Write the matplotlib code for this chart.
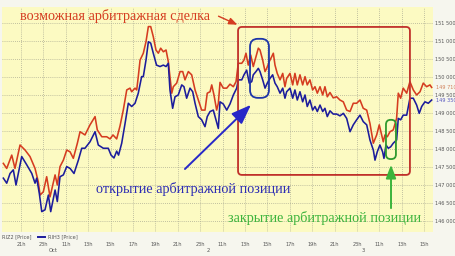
import matplotlib
matplotlib.use("Agg")
import matplotlib.pyplot as plt
from matplotlib.patches import FancyBboxPatch
from matplotlib.lines import Line2D

# =========================
# data (hours from first 21h tick, price)
# =========================
riz2_t = [-1.58, -1.28, -0.83, -0.54, -0.09, 0.36, 0.80, 1.25, 1.54, 1.70, 1.99, 2.29, 2.59, 3.04, 3.24,
          3.48, 3.78, 4.08, 4.38, 4.67, 5.03, 5.27, 5.71, 6.16, 6.61, 6.81, 7.21, 7.65, 7.95, 8.21,
          8.54, 8.84, 9.13, 9.44, 9.73, 9.88, 10.18, 10.33, 10.47, 10.63, 10.92, 11.16, 11.37, 11.58, 11.81,
          12.05, 12.26, 12.47, 12.71, 12.95, 13.15, 13.30, 13.46, 13.60, 13.90, 14.20, 14.44, 14.64, 14.94, 15.24,
          15.54, 15.83, 16.13, 16.43, 16.63, 16.88, 17.03, 17.23, 17.47, 17.62, 17.77, 18.06, 18.37, 18.66, 18.96,
          19.20, 19.40, 19.71, 19.91, 20.09, 20.29, 20.51, 20.74, 20.98, 21.19, 21.34, 21.58, 21.79, 21.94, 22.17,
          22.38, 22.53, 22.68, 22.88, 23.13, 23.37, 23.57, 23.72, 24.02, 24.26, 24.46, 24.67, 24.91, 25.15, 25.36,
          25.56, 25.80, 26.04, 26.25, 26.46, 26.70, 26.94, 27.14, 27.35, 27.59, 27.88, 28.19, 28.48, 28.78, 29.08,
          29.38, 29.67, 29.97, 30.27, 30.56, 30.87, 31.16, 31.46, 31.76, 31.99, 32.21, 32.35, 32.50, 32.71, 32.95,
          33.24, 33.54, 33.69, 33.90, 34.13, 34.44, 34.73, 35.03, 35.33, 35.63, 35.92, 36.22, 36.52, 36.67]
riz2_v = [147600, 147460, 147830, 147460, 148110, 147970, 147790, 147460, 147090, 146720, 146810, 147230, 146670, 147280, 147000,
          147510, 147690, 147970, 147920, 147740, 148160, 148480, 148390, 148670, 148900, 148530, 148340, 148340, 148280, 148390,
          148280, 148640, 149080, 149640, 149690, 149590, 149690, 149640, 150010, 150470, 150660, 150980, 151400, 151400, 151120,
          150750, 150660, 150800, 150700, 150750, 150430, 150010, 149550, 149730, 149830, 150150, 150150, 149920, 150150, 150060,
          149640, 149360, 149080, 149080, 149550, 149590, 149780, 149500, 149080, 149270, 149850, 149690, 149690, 149800, 149730,
          149870, 150380, 150380, 150470, 150660, 150330, 150610, 150290, 150560, 150800, 150750, 150470, 150150, 150240, 150430,
          150560, 150660, 150330, 150100, 149920, 150100, 149730, 149960, 150100, 149780, 150100, 149780, 150060, 149780, 150010,
          149780, 149920, 149640, 149730, 149550, 149730, 149500, 149730, 149450, 149570, 149420, 149450, 149360, 149310, 149080,
          149040, 149270, 149270, 149360, 149130, 149080, 148710, 148160, 148390, 148670, 148390, 148200, 148390, 148340, 148480,
          148530, 148850, 149550, 149410, 149690, 149550, 149870, 149640, 149500, 149590, 149830, 149730, 149780, 149710]

rih3_t = [-1.58, -1.28, -0.98, -0.69, -0.45, 0.06, 0.51, 0.96, 1.25, 1.40, 1.63, 1.85, 2.14, 2.44, 2.65,
          3.04, 3.24, 3.48, 3.78, 4.08, 4.38, 4.73, 5.12, 5.42, 5.71, 6.16, 6.61, 6.90, 7.35, 7.79,
          8.04, 8.30, 8.54, 8.71, 8.99, 9.29, 9.58, 9.88, 10.18, 10.47, 10.77, 10.92, 11.16, 11.37, 11.58,
          11.81, 12.10, 12.41, 12.71, 12.95, 13.15, 13.30, 13.54, 13.75, 14.04, 14.35, 14.55, 14.79, 15.09, 15.33,
          15.54, 15.83, 16.13, 16.43, 16.63, 16.88, 17.17, 17.41, 17.62, 17.77, 18.06, 18.37, 18.66, 18.96, 19.26,
          19.40, 19.71, 19.91, 20.15, 20.38, 20.60, 20.74, 20.98, 21.19, 21.34, 21.58, 21.79, 21.99, 22.23, 22.47,
          22.68, 22.88, 23.13, 23.37, 23.57, 23.72, 24.02, 24.26, 24.46, 24.67, 24.91, 25.15, 25.36, 25.56, 25.80,
          26.04, 26.25, 26.46, 26.70, 26.94, 27.14, 27.35, 27.59, 27.88, 28.19, 28.48, 28.78, 29.08, 29.38, 29.67,
          29.97, 30.27, 30.56, 30.87, 31.16, 31.46, 31.61, 31.81, 32.05, 32.29, 32.41, 32.59, 32.80, 33.01, 33.24,
          33.54, 33.69, 33.90, 34.13, 34.44, 34.73, 35.03, 35.33, 35.56, 35.78, 36.07, 36.37, 36.67]
rih3_v = [147190, 147050, 147320, 147420, 147000, 147790, 147560, 147320, 147050, 147190, 146770, 146260, 146310, 146720, 146260,
          146860, 146540, 147230, 147280, 147510, 147460, 147320, 147690, 148020, 148020, 148200, 148480, 148110, 148020, 148020,
          147830, 147750, 147940, 147830, 148160, 148710, 149270, 149180, 149270, 149550, 150010, 150010, 150470, 150980, 150940,
          150660, 150330, 150290, 150330, 150290, 150380, 149640, 149130, 149450, 149500, 149780, 149730, 149410, 149690, 149590,
          149270, 148900, 148810, 148620, 148900, 149040, 149080, 148810, 148570, 149310, 149250, 149080, 149250, 149500, 149690,
          149920, 149920, 150060, 150190, 149830, 149870, 150060, 150150, 150240, 150150, 149920, 149690, 149830, 149960, 150060,
          149830, 149730, 149550, 149690, 149410, 149590, 149690, 149410, 149640, 149360, 149590, 149310, 149500, 149180, 149360,
          149080, 149180, 149040, 149220, 149040, 149130, 148900, 149060, 148970, 148970, 148920, 148990, 148850, 148480, 148670,
          148810, 148940, 148760, 148670, 148250, 147970, 147690, 147920, 148110, 147920, 147740, 148110, 148020, 148060, 148160,
          148250, 148850, 148810, 148940, 148940, 149410, 149410, 149220, 148990, 149180, 149310, 149270, 149360]

tick_pos = list(range(0, 37, 2))
tick_labels = ["21h", "23h", "11h", "13h", "15h", "17h", "19h", "21h", "23h", "11h",
               "13h", "15h", "17h", "19h", "21h", "23h", "11h", "13h", "15h"]
price_ticks = list(range(146000, 152000, 500))
last_riz2 = 149710
last_rih3 = 149350

RED = "#d53c20"
BLUE = "#1c1c9c"
GREEN = "#2f9a2f"
W, H = 456, 256


def fx(px):
    return px / W


def fy(py):
    return 1 - py / H


def price_fmt(v):
    return f"{v // 1000} {v % 1000:03d}"


fig = plt.figure(figsize=(4.56, 2.56), dpi=100, facecolor="#f6f6ee")
ax = fig.add_axes([fx(2), fy(232), fx(431), (232 - 7) / H])
ax.set_facecolor("#fcfac2")
ax.set_xlim(-1.70, 36.79)
ax.set_ylim(145694, 151944)

ax.set_xticks(tick_pos)
ax.set_xticklabels(tick_labels)
ax.set_yticks(price_ticks)
ax.yaxis.tick_right()
ax.set_yticklabels([price_fmt(v) for v in price_ticks])
ax.tick_params(axis="both", length=0, labelsize=3.6, colors="#555555")
ax.tick_params(axis="x", pad=7.2)
ax.tick_params(axis="y", pad=1.8)
ax.grid(True, linestyle=(0, (1, 1.5)), color="#aeae94", linewidth=0.6)
for s in ax.spines.values():
    s.set_visible(False)

ax.plot(riz2_t, riz2_v, color=RED, lw=1.15, zorder=3)
ax.plot(rih3_t, rih3_v, color=BLUE, lw=1.15, zorder=3)

# last-value labels on the right axis
ytr = ax.get_yaxis_transform()
ax.text(1.006, last_riz2, price_fmt(last_riz2), transform=ytr, fontsize=3.6,
        color="#d0805a", ha="left", va="center")
ax.text(1.006, last_rih3, price_fmt(last_rih3), transform=ytr, fontsize=3.6,
        color="#5858c0", ha="left", va="center")

# aspect for rounding corners in data coords
asp = (6250 / 225) / (38.49 / 431)


def rbox(x0, x1, y0, y1, color, r):
    p = FancyBboxPatch((x0, y0), x1 - x0, y1 - y0,
                       boxstyle=f"round,pad=0,rounding_size={r}",
                       mutation_aspect=asp, fill=False, ec=color, lw=1.3, zorder=4)
    ax.add_patch(p)


rbox(19.38, 34.73, 147280, 151390, "#c0302a", 0.35)
rbox(20.45, 22.14, 149420, 151060, "#1e36a8", 0.7)
rbox(32.59, 33.48, 147720, 148810, GREEN, 0.42)

# arrows
ax.annotate("", xy=(20.71, 149280), xytext=(14.46, 147390),
            arrowprops=dict(arrowstyle="-|>,head_length=1.2,head_width=0.45",
                            color="#2828c8", lw=1.4), zorder=5)
ax.annotate("", xy=(33.04, 147640), xytext=(33.04, 146280),
            arrowprops=dict(arrowstyle="-|>,head_length=0.8,head_width=0.3",
                            color="#3cb43c", lw=1.4), zorder=5)
ax.annotate("", xy=(19.55, 151420), xytext=(17.41, 151720),
            arrowprops=dict(arrowstyle="-|>,head_length=0.5,head_width=0.2",
                            color=RED, lw=1.0), zorder=5)

serif = ["Liberation Serif", "DejaVu Serif"]
fig.text(fx(115), fy(16), "возможная арбитражная сделка", family=serif,
         fontsize=10.3, color=RED, ha="center", va="center")
fig.text(fx(193), fy(189), "открытие арбитражной позиции", family=serif,
         fontsize=10.3, color="#2c2cb4", ha="center", va="center")
fig.text(fx(325), fy(218), "закрытие арбитражной позиции", family=serif,
         fontsize=10.3, color="#3cb43c", ha="center", va="center")

# legend row and date row
fig.text(fx(2), fy(236.5), "RIZ2 [Price]", fontsize=3.6, color="#555555", va="center")
fig.add_artist(Line2D([fx(38), fx(45)], [fy(236.5), fy(236.5)], color=BLUE, lw=1.4))
fig.text(fx(48), fy(236.5), "RIH3 [Price]", fontsize=3.6, color="#555555", va="center")
for px, lab in [(53, "Oct"), (208, "2"), (363, "3")]:
    fig.text(fx(px), fy(251), lab, fontsize=3.8, color="#555555", ha="center", va="center")

fig.savefig("out.png", dpi=100, facecolor=fig.get_facecolor())
